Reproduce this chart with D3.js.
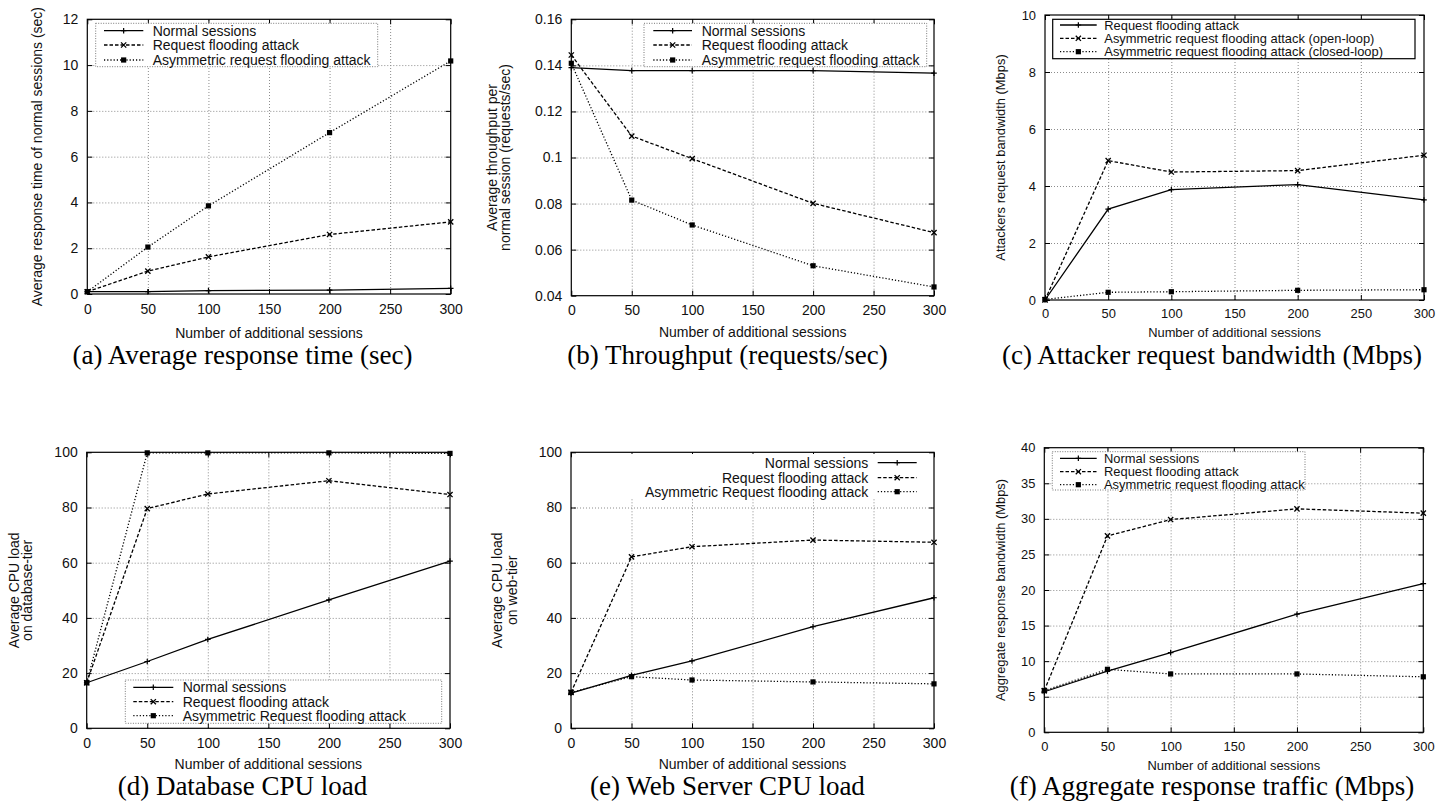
<!DOCTYPE html>
<html><head><meta charset="utf-8">
<script src="https://cdn.jsdelivr.net/npm/d3@7"></script>
<style>body{margin:0;background:#fff;} svg{display:block;}</style>
</head><body><svg id="chart" width="1455" height="808"></svg>
<script>
// ---------------- data ----------------
const sessions = [0, 50, 100, 200, 300];
const xTickValues = [0, 50, 100, 150, 200, 250, 300];

const respNormal = [0.1, 0.1, 0.15, 0.17, 0.25];
const respFlood  = [0.1, 1.0, 1.62, 2.6, 3.15];
const respAsym   = [0.1, 2.05, 3.85, 7.05, 10.18];
const respTicks  = [0, 2, 4, 6, 8, 10, 12];

const thrNormal = [0.139, 0.1377, 0.1377, 0.1377, 0.1366];
const thrFlood  = [0.1445, 0.1093, 0.0995, 0.0801, 0.0674];
const thrAsym   = [0.1409, 0.0815, 0.0707, 0.053, 0.0438];
const thrTicks  = [0.04, 0.06, 0.08, 0.1, 0.12, 0.14, 0.16];

const bwFlood  = [0, 3.19, 3.87, 4.05, 3.51];
const bwOpen   = [0, 4.89, 4.49, 4.54, 5.08];
const bwClosed = [0.02, 0.27, 0.29, 0.34, 0.36];
const bwTicks  = [0, 2, 4, 6, 8, 10];

const dbNormal = [16.5, 24.2, 32.2, 46.5, 60.6];
const dbFlood  = [16.5, 79.6, 84.9, 89.7, 84.7];
const dbAsym   = [16.5, 99.8, 99.8, 99.8, 99.6];
const cpuTicks = [0, 20, 40, 60, 80, 100];

const webNormal = [12.7, 19.2, 24.4, 36.8, 47.3];
const webFlood  = [13.0, 62.1, 65.8, 68.2, 67.4];
const webAsym   = [13.0, 18.7, 17.5, 16.8, 16.1];

const aggNormal = [5.7, 8.6, 11.2, 16.6, 20.9];
const aggFlood  = [5.85, 27.6, 29.9, 31.4, 30.8];
const aggAsym   = [5.85, 8.85, 8.2, 8.2, 7.8];
const aggTicks  = [0, 5, 10, 15, 20, 25, 30, 35, 40];

const legendStd = ["Normal sessions", "Request flooding attack", "Asymmetric request flooding attack"];
const legendBw  = ["Request flooding attack", "Asymmetric request flooding attack (open-loop)", "Asymmetric request flooding attack (closed-loop)"];
const legendCpu = ["Normal sessions", "Request flooding attack", "Asymmetric Request flooding attack"];

const xLabel = "Number of additional sessions";
const yLabels = [
  ["Average response time of normal sessions (sec)"],
  ["Average throughput per", "normal session (requests/sec)"],
  ["Attackers request bandwidth (Mbps)"],
  ["Average CPU load", "on database-tier"],
  ["Average CPU load", "on web-tier"],
  ["Aggregate response bandwidth (Mbps)"]
];
const captions = [
  "(a) Average response time (sec)",
  "(b) Throughput (requests/sec)",
  "(c) Attacker request bandwidth (Mbps)",
  "(d) Database CPU load",
  "(e) Web Server CPU load",
  "(f) Aggregate response traffic (Mbps)"
];

// ---------------- layout ----------------
const panels = [
  {L:87.3, R:450.7, T:19.3, B:294, dom:[0,12], ticks:respTicks, series:[respNormal,respFlood,respAsym], legend:legendStd,
   fs:14, xlY:337.5, ylX:[37], leg:{type:"dotted", x0:95.7, x1:377.7, y0:23.3, y1:66.7, sx0:104, sx1:143.3, tx:152.7, rows:[30.7,45,60]},
   cap:{x:242.5, y:364}, tickPad:10},
  {L:571.3, R:934, T:19.3, B:295.7, dom:[0.04,0.16], ticks:thrTicks, series:[thrNormal,thrFlood,thrAsym], legend:legendStd,
   fs:14, xlY:336.5, ylX:[491.7,505], leg:{type:"dotted", x0:644, x1:926.7, y0:23.3, y1:66.7, sx0:653.3, sx1:692, tx:701.7, rows:[30.7,45,60]},
   cap:{x:727.5, y:364}, tickPad:9.5},
  {L:1045, R:1424, T:15, B:300, dom:[0,10], ticks:bwTicks, series:[bwFlood,bwOpen,bwClosed], legend:legendBw,
   fs:12.9, xlY:337, ylX:[1000], leg:{type:"solid", x0:1052.7, x1:1415, y0:19.3, y1:58.7, sx0:1060, sx1:1096.7, tx:1104.3, rows:[25,38.3,51.7]},
   cap:{x:1212, y:364}, tickPad:9},
  {L:86.7, R:450, T:452.3, B:728.3, dom:[0,100], ticks:cpuTicks, series:[dbNormal,dbFlood,dbAsym], legend:legendCpu,
   fs:14, xlY:769, ylX:[14,27], leg:{type:"dotted", x0:125.3, x1:441.7, y0:680, y1:723.3, sx0:133.3, sx1:173.3, tx:182.7, rows:[687.3,701.7,715.7]},
   cap:{x:242.5, y:795}, tickPad:10},
  {L:571, R:934, T:452.3, B:728.3, dom:[0,100], ticks:cpuTicks, series:[webNormal,webFlood,webAsym], legend:legendCpu,
   fs:14, xlY:769, ylX:[497,512], leg:{type:"none", x0:630, x1:922, y0:454, y1:499, sx0:877.7, sx1:916.7, tx:868.3, anchor:"end", rows:[462.7,477.7,491.7]},
   cap:{x:727.5, y:795}, tickPad:10},
  {L:1044.3, R:1423.3, T:447.7, B:732.3, dom:[0,40], ticks:aggTicks, series:[aggNormal,aggFlood,aggAsym], legend:legendStd,
   fs:12.9, xlY:769.5, ylX:[1000.8], leg:{type:"dotted", x0:1052.3, x1:1305, y0:451.7, y1:490, sx0:1060, sx1:1096.7, tx:1104, rows:[458.3,471.7,484.7]},
   cap:{x:1212, y:795}, tickPad:9.5}
];

const FONT = "'Liberation Sans', Arial, Helvetica, sans-serif";
const SERIF = "'Liberation Serif', 'Times New Roman', serif";
const dashes = [null, "3.5,2", "1.2,2"];
const LW = 1.3;

const svg = d3.select("#chart");

function marker(g, kind, cx, cy) {
  if (kind === 0) {
    g.append("path").attr("d", `M${cx-2.8},${cy}H${cx+2.8}M${cx},${cy-2.8}V${cy+2.8}`)
      .attr("stroke", "#000").attr("stroke-width", 1.2).attr("fill", "none");
  } else if (kind === 1) {
    g.append("path").attr("d", `M${cx-2.6},${cy-2.6}L${cx+2.6},${cy+2.6}M${cx-2.6},${cy+2.6}L${cx+2.6},${cy-2.6}`)
      .attr("stroke", "#000").attr("stroke-width", 1.3).attr("fill", "none");
  } else {
    g.append("rect").attr("x", cx-2.6).attr("y", cy-2.6).attr("width", 5.2).attr("height", 5.2).attr("fill", "#000");
  }
}

panels.forEach((p, pi) => {
  const g = svg.append("g");
  const x = d3.scaleLinear().domain([0, 300]).range([p.L, p.R]);
  const y = d3.scaleLinear().domain(p.dom).range([p.B, p.T]);
  const fmt = d => String(+d.toFixed(2));

  // grid
  const gx = g.append("g").attr("transform", `translate(0,${p.B})`)
    .call(d3.axisBottom(x).tickValues(xTickValues.slice(1, -1)).tickSize(-(p.B - p.T)).tickFormat(""));
  const gy = g.append("g").attr("transform", `translate(${p.L},0)`)
    .call(d3.axisLeft(y).tickValues(p.ticks.slice(1, -1)).tickSize(-(p.R - p.L)).tickFormat(""));
  [gx, gy].forEach(a => {
    a.select(".domain").remove();
    a.selectAll("line").attr("stroke", "#8c8c8c").attr("stroke-dasharray", "1,2").attr("stroke-width", 1);
  });

  // axes with inward ticks
  const bottom = g.append("g").attr("transform", `translate(0,${p.B})`)
    .call(d3.axisBottom(x).tickValues(xTickValues).tickSizeInner(-5).tickSizeOuter(0).tickPadding(p.tickPad).tickFormat(fmt));
  const top = g.append("g").attr("transform", `translate(0,${p.T})`)
    .call(d3.axisTop(x).tickValues(xTickValues).tickSizeInner(-5).tickSizeOuter(0).tickFormat(""));
  const left = g.append("g").attr("transform", `translate(${p.L},0)`)
    .call(d3.axisLeft(y).tickValues(p.ticks).tickSizeInner(-5).tickSizeOuter(0).tickPadding(9).tickFormat(fmt));
  const right = g.append("g").attr("transform", `translate(${p.R},0)`)
    .call(d3.axisRight(y).tickValues(p.ticks).tickSizeInner(-5).tickSizeOuter(0).tickFormat(""));
  [bottom, top, left, right].forEach(a => {
    a.select(".domain").remove();
    a.selectAll("line").attr("stroke", "#000").attr("stroke-width", 1);
    a.selectAll("text").attr("font-family", FONT).attr("font-size", p.fs).attr("fill", "#111");
  });

  // border
  g.append("rect").attr("x", p.L).attr("y", p.T).attr("width", p.R - p.L).attr("height", p.B - p.T)
    .attr("fill", "none").attr("stroke", "#000").attr("stroke-width", 1.2);

  // series
  const line = d3.line().x((d, i) => x(sessions[i])).y(d => y(d));
  p.series.forEach((s, si) => {
    const path = g.append("path").datum(s).attr("d", line).attr("fill", "none")
      .attr("stroke", "#000").attr("stroke-width", LW);
    if (dashes[si]) path.attr("stroke-dasharray", dashes[si]);
    s.forEach((v, i) => marker(g, si, x(sessions[i]), y(v)));
  });

  // legend
  const lg = g.append("g");
  const L = p.leg;
  const box = lg.append("rect").attr("x", L.x0).attr("y", L.y0).attr("width", L.x1 - L.x0).attr("height", L.y1 - L.y0)
    .attr("fill", "#fff");
  if (L.type === "dotted") box.attr("stroke", "#777").attr("stroke-dasharray", "1,1.5").attr("stroke-width", 1);
  else if (L.type === "solid") box.attr("stroke", "#000").attr("stroke-width", 1.2);
  p.legend.forEach((name, si) => {
    const ry = L.rows[si];
    const ln = lg.append("line").attr("x1", L.sx0).attr("x2", L.sx1).attr("y1", ry).attr("y2", ry)
      .attr("stroke", "#000").attr("stroke-width", LW);
    if (dashes[si]) ln.attr("stroke-dasharray", dashes[si]);
    marker(lg, si, (L.sx0 + L.sx1) / 2, ry);
    lg.append("text").attr("x", L.tx).attr("y", ry).attr("dy", "0.36em")
      .attr("text-anchor", L.anchor || "start").attr("font-family", FONT).attr("font-size", p.fs).attr("fill", "#111")
      .text(name);
  });

  // axis labels
  g.append("text").attr("x", (p.L + p.R) / 2).attr("y", p.xlY).attr("text-anchor", "middle")
    .attr("font-family", FONT).attr("font-size", p.fs).attr("fill", "#111").text(xLabel);
  const cy = (p.T + p.B) / 2;
  yLabels[pi].forEach((t, li) => {
    g.append("text").attr("transform", `translate(${p.ylX[li]},${cy}) rotate(-90)`).attr("dy", "0.36em")
      .attr("text-anchor", "middle").attr("font-family", FONT).attr("font-size", p.fs).attr("fill", "#111").text(t);
  });

  // caption
  g.append("text").attr("x", p.cap.x).attr("y", p.cap.y).attr("text-anchor", "middle")
    .attr("font-family", SERIF).attr("font-size", 27).attr("fill", "#000").text(captions[pi]);
});
</script>
</body></html>
